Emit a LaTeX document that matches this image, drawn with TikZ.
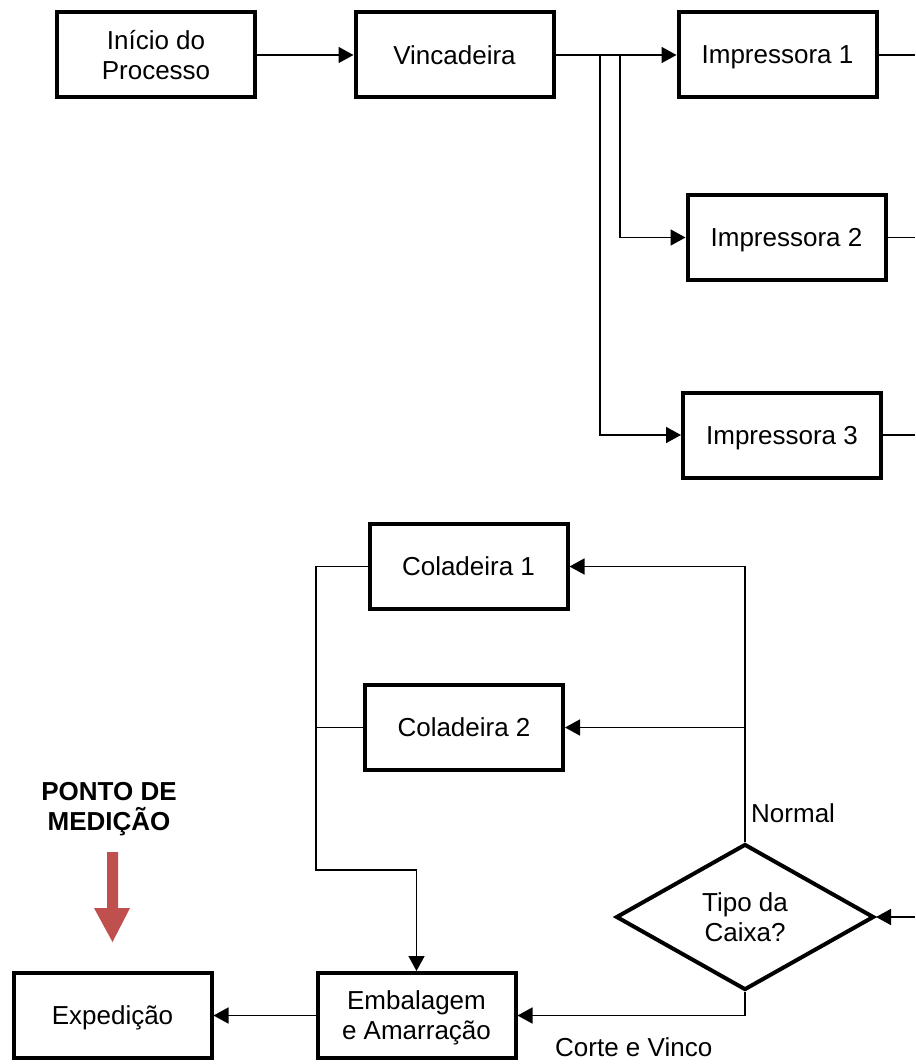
\documentclass[tikz,border=0pt]{standalone}
\usepackage{fontspec}
\setmainfont{Liberation Sans}
\usetikzlibrary{arrows.meta,shapes.geometric}
\definecolor{markred}{HTML}{C0504D}
\begin{document}
\begin{tikzpicture}[x=1pt,y=-1pt,
  every node/.style={font=\fontsize{26}{30}\selectfont},
  stepbox/.style={draw, line width=4pt, minimum width=198pt, minimum height=85pt,
    inner sep=0pt, outer sep=2pt, align=center, text depth=0pt},
  decision/.style={draw, diamond, line width=4pt, minimum width=258pt, minimum height=146pt,
    inner sep=0pt, outer sep=2pt, align=center, text depth=0pt},
  link/.style={line width=1.6pt},
  arr/.style={link, -{Triangle[length=15pt,width=16pt]}},
  lbl/.style={anchor=west, inner sep=0pt}]
\useasboundingbox (0,0) rectangle (915,1064);

% top row: start, creaser and printers
\node[stepbox] (inicio) at (156,55) {Início do\\Processo};
\node[stepbox] (vinc) at (454.5,55) {Vincadeira};
\node[stepbox] (imp1) at (777.5,55) {Impressora 1};
\node[stepbox] (imp2) at (786.5,237.5) {Impressora 2};
\node[stepbox] (imp3) at (782,435) {Impressora 3};

% gluers, packing, shipping
\node[stepbox] (col1) at (468.5,566.5) {Coladeira 1};
\node[stepbox] (col2) at (464,727.5) {Coladeira 2};
\node[stepbox] (emb) at (416.5,1015.5) {Embalagem\\e Amarração};
\node[stepbox] (exp) at (112.5,1015.5) {Expedição};
\node[decision] (dia) at (745,917) {Tipo da\\Caixa?};

% junction points and free ends
\coordinate (j2) at (620,55);
\coordinate (j3) at (600,55);
\coordinate (o1) at (915,55);
\coordinate (o2) at (915,237.5);
\coordinate (o3) at (915,435);
\coordinate (din) at (915,917);
\coordinate (lv) at (316,870);

% connectors
\draw[arr] (inicio.east) -- (vinc.west);
\draw[arr] (vinc.east) -- (imp1.west);
\draw[arr] (j2) |- (imp2.west);
\draw[arr] (j3) |- (imp3.west);
\draw[link] (imp1.east) -- (o1);
\draw[link] (imp2.east) -- (o2);
\draw[link] (imp3.east) -- (o3);
\draw[arr] (din) -- (dia.east);
\draw[arr] (dia.north) |- (col1.east);
\draw[arr] (dia.north) |- (col2.east);
\draw[arr] (dia.south) |- (emb.east);
\draw[arr] (col1.west) -| (lv) -| (emb.north);
\draw[link] (col2.west) -- (col2.west -| lv);
\draw[arr] (emb.west) -- (exp.east);

% branch labels
\node[lbl] (normal) at (751,813) {Normal};
\node[lbl] (corte) at (555,1047) {Corte e Vinco};

% measurement point
\node[align=center, font=\fontsize{26}{30}\selectfont\bfseries] (ponto) at (109,809) {PONTO DE\\MEDIÇÃO};
\fill[markred] (107,852) -- (118,852) -- (118,908) -- (130,908) -- (112.5,942)
  -- (94,908) -- (107,908) -- cycle;
\end{tikzpicture}
\end{document}
